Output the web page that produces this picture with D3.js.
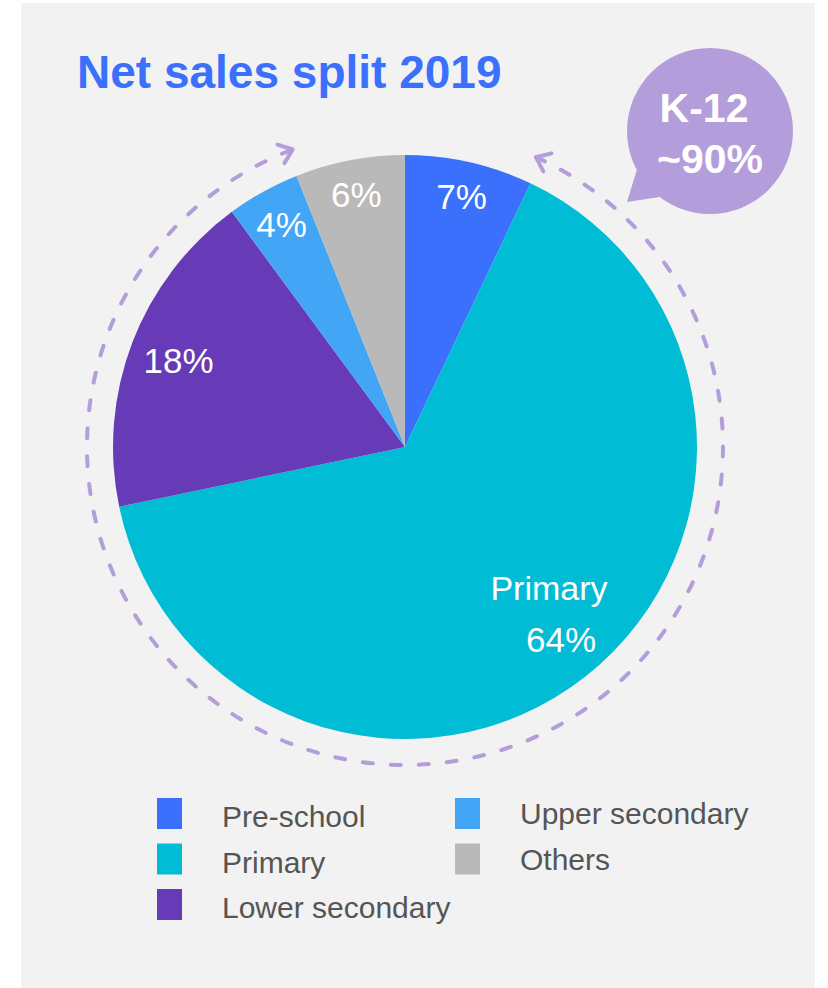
<!DOCTYPE html>
<html>
<head>
<meta charset="utf-8">
<script src="https://cdn.jsdelivr.net/npm/d3@7/dist/d3.min.js"></script>
<style>
  html, body { margin: 0; padding: 0; background: #ffffff; }
  svg { display: block; font-family: "Liberation Sans", Arial, sans-serif; }
</style>
</head>
<body>
<svg id="chart" width="828" height="988"></svg>
<script>
// Net sales split by segment, 2019 (% of total)
const categories = ["Pre-school", "Primary", "Lower secondary", "Upper secondary", "Others"];
const shares = [7, 64, 18, 4, 6];
const sliceLabels = ["7%", "64%", "18%", "4%", "6%"];
const colors = ["#3a70fc", "#00bcd4", "#673ab7", "#42a5f5", "#b9b9b9"];
const k12Segments = ["Primary", "Lower secondary", "Upper secondary"];
const calloutLines = ["K-12", "~90%"];
const title = "Net sales split 2019";

const svg = d3.select("#chart");
const W = 828, H = 988;

// card background
svg.append("rect")
  .attr("x", 21).attr("y", 3).attr("width", 794).attr("height", H - 3)
  .attr("fill", "#f2f2f2");

// title
svg.append("text")
  .attr("x", 77).attr("y", 88)
  .attr("font-size", 46).attr("font-weight", "bold")
  .attr("fill", "#3a70fc")
  .text(title);

// pie
const cx = 405, cy = 447, R = 292;
const g = svg.append("g").attr("transform", `translate(${cx},${cy})`);
const pie = d3.pie().sort(null).value(d => d);
const arcs = pie(shares);
const arc = d3.arc().innerRadius(0).outerRadius(R);

g.selectAll("path.slice")
  .data(arcs)
  .join("path")
  .attr("class", "slice")
  .attr("d", arc)
  .attr("fill", (d, i) => colors[i]);

// slice labels (label radius as a fraction of the pie radius)
const labelRadius = [0.88, 0.77, 0.83, 0.87, 0.88];
arcs.forEach((d, i) => {
  const la = d3.arc().innerRadius(R * labelRadius[i]).outerRadius(R * labelRadius[i]);
  const [x, y] = la.centroid(d);
  if (categories[i] === "Primary") {
    const t = g.append("text")
      .attr("fill", "#ffffff").attr("font-size", 34)
      .attr("text-anchor", "middle");
    t.append("tspan").attr("x", x + 5).attr("y", y - 36).attr("dy", "0.35em").text(categories[i]);
    t.append("tspan").attr("x", x + 17).attr("y", y + 16).attr("dy", "0.35em").attr("font-size", 35).text(sliceLabels[i]);
  } else {
    g.append("text")
      .attr("x", x).attr("y", y).attr("dy", "0.35em")
      .attr("text-anchor", "middle")
      .attr("fill", "#ffffff").attr("font-size", 35)
      .text(sliceLabels[i]);
  }
});

// dashed bracket around the K-12 segments, with arrowheads at both ends
const k12Arcs = arcs.filter((d, i) => k12Segments.includes(categories[i]));
const a0 = d3.min(k12Arcs, d => d.startAngle) - 0.02;
const a1 = d3.max(k12Arcs, d => d.endAngle) + 0.02;
const rb = 318;
const bracketColor = "#b39ddb";
const bp = d3.path();
bp.arc(0, 0, rb, a0 - Math.PI / 2, a1 - Math.PI / 2, false);
g.append("path")
  .attr("d", bp.toString())
  .attr("fill", "none")
  .attr("stroke", bracketColor)
  .attr("stroke-width", 4)
  .attr("stroke-linecap", "round")
  .attr("stroke-dasharray", "10 18");

function arrowHead(theta, sign) {
  const tip = [rb * Math.sin(theta), -rb * Math.cos(theta)];
  // direction of travel at the end of the arc
  const dir = [sign * Math.cos(theta), sign * Math.sin(theta)];
  const back = Math.atan2(-dir[1], -dir[0]);
  const len = 16, spread = 38 * Math.PI / 180;
  const p1 = [tip[0] + len * Math.cos(back + spread), tip[1] + len * Math.sin(back + spread)];
  const p2 = [tip[0] + len * Math.cos(back - spread), tip[1] + len * Math.sin(back - spread)];
  g.append("path")
    .attr("d", `M${p1}L${tip}L${p2}`)
    .attr("fill", "none")
    .attr("stroke", bracketColor)
    .attr("stroke-width", 4)
    .attr("stroke-linecap", "round")
    .attr("stroke-linejoin", "round");
}
arrowHead(a0, -1);
arrowHead(a1, 1);

// speech bubble callout
const bx = 710, by = 131, br = 83;
const bubble = svg.append("g");
bubble.append("circle").attr("cx", bx).attr("cy", by).attr("r", br).attr("fill", bracketColor);
const tb1 = [bx + br * Math.cos(Math.PI - 0.49), by + br * Math.sin(Math.PI - 0.49)];
const tb2 = [bx + br * Math.cos(Math.PI - 0.92), by + br * Math.sin(Math.PI - 0.92)];
bubble.append("path")
  .attr("d", `M${tb1}L627,202L${tb2}Z`)
  .attr("fill", bracketColor);
bubble.selectAll("text")
  .data(calloutLines)
  .join("text")
  .attr("x", (d, i) => i === 0 ? 704 : 710)
  .attr("y", (d, i) => i === 0 ? 122 : 173)
  .attr("text-anchor", "middle")
  .attr("font-size", 41).attr("font-weight", "bold")
  .attr("fill", "#ffffff")
  .text(d => d);

// legend: two columns
const legendCols = [[0, 1, 2], [3, 4]];
const colX = [157, 455];
const rowY0 = 798, rowStep = 45.5;
legendCols.forEach((col, c) => {
  col.forEach((idx, r) => {
    const y = rowY0 + r * rowStep;
    svg.append("rect")
      .attr("x", colX[c]).attr("y", y)
      .attr("width", 25).attr("height", 31)
      .attr("fill", colors[idx]);
    svg.append("text")
      .attr("x", colX[c] + 65).attr("y", y + 29 - (c === 1 ? 3 : 0))
      .attr("font-size", 30)
      .attr("fill", "#555555")
      .text(categories[idx]);
  });
});
</script>
</body>
</html>
